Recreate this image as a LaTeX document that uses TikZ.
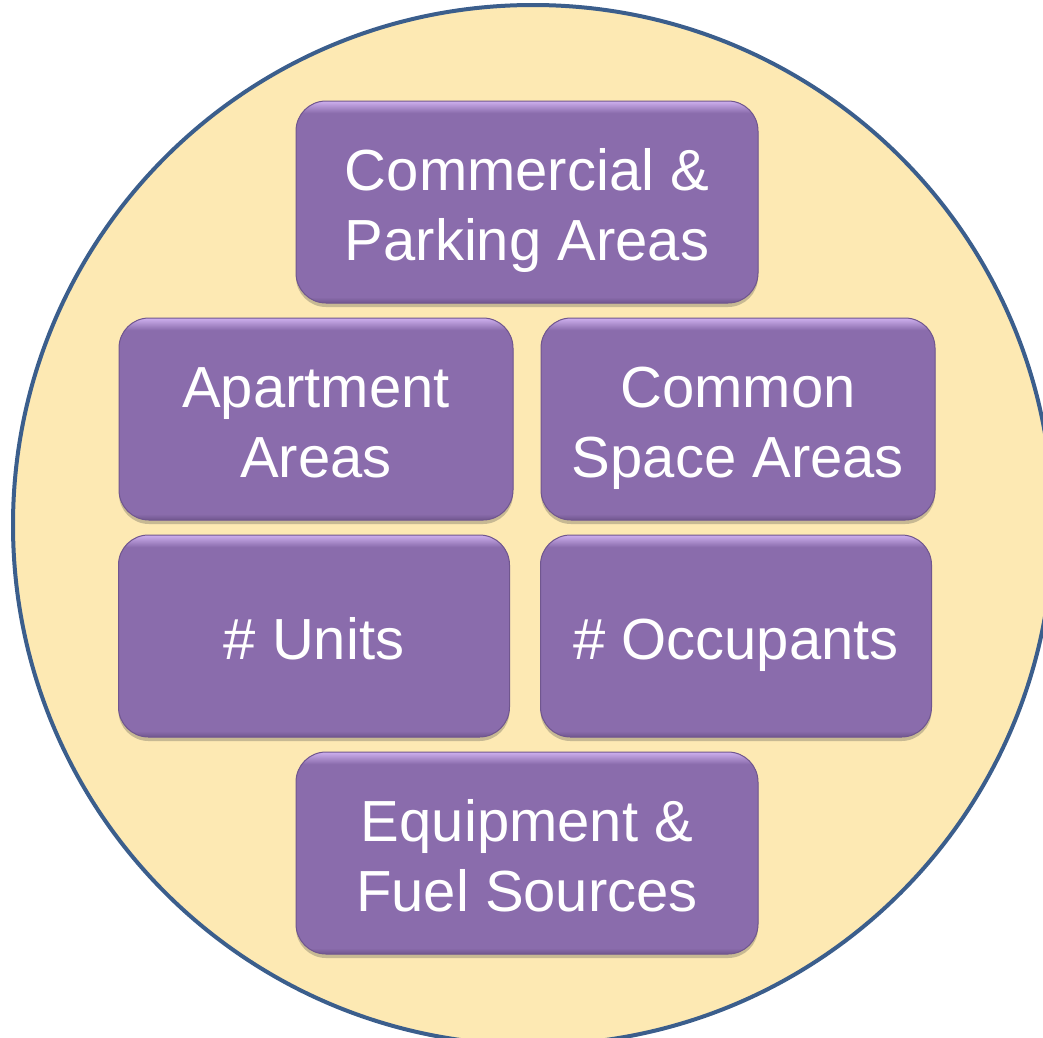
\documentclass[tikz,border=0pt]{standalone}
\usepackage{fontspec}
\setmainfont{Liberation Sans}
\usepackage{tikz}
\usetikzlibrary{shadows, positioning}

\definecolor{ringfill}{RGB}{253,233,179}
\definecolor{ringline}{RGB}{59,94,140}
\definecolor{boxfill}{RGB}{138,108,172}
\definecolor{boxedge}{RGB}{112,86,142}
\definecolor{boxhi}{RGB}{206,176,238}

% shine along the top edge, darker along the bottom
\pgfdeclareverticalshading{boxshine}{100bp}{color(0bp)=(boxedge); color(25bp)=(boxedge);
    color(26.5bp)=(boxfill); color(72bp)=(boxfill); color(75bp)=(boxhi); color(100bp)=(boxhi)}
% struts so the text sits where it should in the boxes
\newcommand{\boxtop}{\rule{0pt}{62pt}}
\newcommand{\boxbot}{\rule[-16pt]{0pt}{16pt}}

\begin{document}
\begin{tikzpicture}[
    x=1pt, y={(0pt,-1pt)},
    box/.style={rectangle, fill=boxfill, draw=boxedge, line width=1pt, rounded corners=30pt,
        align=center, text=white, minimum height=202pt, inner sep=0pt,
        font=\fontsize{58}{70}\selectfont,
        drop shadow={shadow xshift=0pt, shadow yshift=-4pt, opacity=0.3, fill=black!70},
        path picture={\shade[shading=boxshine]
            (path picture bounding box.south west) rectangle (path picture bounding box.north east);}},
    wide/.style={minimum width=462pt},
    half/.style={minimum width=394pt}
]
\useasboundingbox (0,0) rectangle (1043,1037);
\draw[fill=ringfill, draw=ringline, line width=4pt] (533,525) circle (520pt);

\node[box, wide] (commercial) at (527,202) {\boxtop Commercial \&\\Parking Areas\boxbot};
\node[box, half] (apartment) at (316,419) {\boxtop Apartment\\Areas\boxbot};
\node[box, half] (common) at (738,419) {\boxtop Common\\Space Areas\boxbot};
\node[box, half, minimum width=391pt] (units) at (314,636) {\boxtop\# Units\boxbot};
\node[box, half, minimum width=391pt] (occupants) at (736,636) {\boxtop\# Occupants\boxbot};
\node[box, wide] (equipment) at (527,853) {\boxtop Equipment \&\\Fuel Sources\boxbot};
\end{tikzpicture}
\end{document}
